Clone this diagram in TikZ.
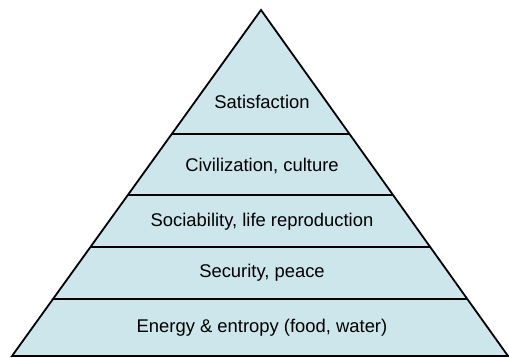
\documentclass[tikz,border=0pt]{standalone}
\usepackage{fontspec}
\setmainfont{Liberation Sans}
\usetikzlibrary{calc}
\definecolor{layerfill}{RGB}{205,230,236}
\begin{document}
\begin{tikzpicture}[x=1pt,y=-1pt,
  edge/.style={line width=1.8pt,black,line join=miter},
  label/.style={font=\fontsize{18.4}{22}\selectfont,text=black,inner sep=0pt}]
\useasboundingbox (0,0) rectangle (509,358);
\coordinate (A) at (261,10);
\coordinate (L) at (12,356);
\coordinate (R) at (508,356);
\fill[layerfill] (A) -- (L) -- (R) -- cycle;
\foreach \t/\n in {0.358/1,0.535/2,0.685/3,0.835/4}{
  \draw[edge] ($(A)!\t!(L)$) coordinate (l\n) -- ($(A)!\t!(R)$) coordinate (r\n);
}
\draw[edge] (A) -- (L) -- (R) -- cycle;
\node[label] (s1) at (262,102) {Satisfaction};
\node[label] (s2) at (262,166) {Civilization, culture};
\node[label] (s3) at (262,222) {Sociability, life reproduction};
\node[label] (s4) at (262,273) {Security, peace};
\node[label] (s5) at (262,328) {Energy \& entropy (food, water)};
\end{tikzpicture}
\end{document}
